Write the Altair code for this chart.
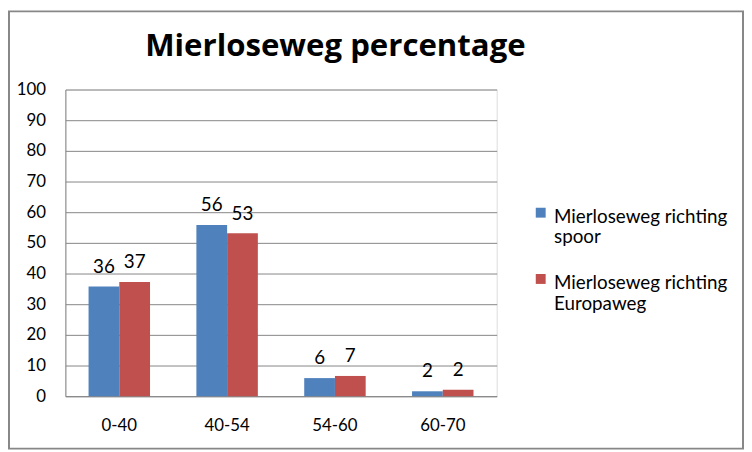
import altair as alt
import pandas as pd

categories = ["0-40", "40-54", "54-60", "60-70"]
series_names = ["Mierloseweg richting spoor", "Mierloseweg richting Europaweg"]
spoor = [35.8, 55.8, 5.9, 1.6]
europaweg = [37.2, 53.1, 6.6, 2.1]
y_ticks = list(range(0, 101, 10))
colors = ["#4F81BD", "#C0504D"]

rows = []
for c, a, b in zip(categories, spoor, europaweg):
    rows.append({"cat": c, "series": series_names[0], "value": a})
    rows.append({"cat": c, "series": series_names[1], "value": b})
df = pd.DataFrame(rows)

FONT = "Lato"
GRID = "#868686"

x_enc = alt.X("cat:N", sort=categories, title=None,
              scale=alt.Scale(paddingInner=0.43, paddingOuter=0.215),
              axis=alt.Axis(labelAngle=0, ticks=False, domainColor=GRID, labelPadding=22,
                            labelFontSize=17, labelColor="#000000", labelFont=FONT))
y_enc = alt.Y("value:Q", title=None,
              scale=alt.Scale(domain=[0, 100], nice=False),
              axis=alt.Axis(values=y_ticks, ticks=False, domainColor=GRID, gridColor=GRID,
                            gridOpacity=1, labelPadding=20, labelFontSize=17,
                            labelColor="#000000", labelFont=FONT))

base = alt.Chart(df).encode(
    x=x_enc,
    xOffset=alt.XOffset("series:N", sort=series_names),
    y=y_enc,
)

bars = base.mark_bar().encode(
    color=alt.Color("series:N", sort=series_names,
                    scale=alt.Scale(domain=series_names, range=colors),
                    legend=alt.Legend(title=None, orient="none", legendX=471, legendY=110,
                                      symbolType="M-1,0H1V2H-1Z", symbolSize=100,
                                      symbolStrokeWidth=0,
                                      labelFont=FONT, labelFontSize=19, labelColor="#000000",
                                      labelLimit=300, labelBaseline="top",
                                      labelExpr="[slice(datum.label, 0, 20), slice(datum.label, 21)]",
                                      rowPadding=17, labelOffset=4))
)

labels = base.mark_text(baseline="alphabetic", dy=-14, fontSize=19, font=FONT,
                        color="#000000").encode(text=alt.Text("value:Q", format=".0f"))

border = alt.Chart(alt.Data(values=[{}])).mark_rect(
    fillOpacity=0, stroke="#878787", strokeWidth=2
).encode(x=alt.value(-57), x2=alt.value(685), y=alt.value(-79), y2=alt.value(363))

chart = alt.layer(bars, labels, border).properties(
    width=436, height=310,
    autosize=alt.AutoSizeParams(type="none"),
    padding={"left": 58, "top": 80, "right": 250, "bottom": 54},
    title=alt.TitleParams("Mierloseweg percentage", font="Open Sans", fontSize=31.5, fontWeight="bold",
                          color="#000000", anchor="middle", dx=55, frame="group",
                          baseline="alphabetic", offset=-78),
).configure_view(stroke=None).configure(background="#FFFFFF")

chart.save("out.html", embed_options={"renderer": "svg", "actions": False})
